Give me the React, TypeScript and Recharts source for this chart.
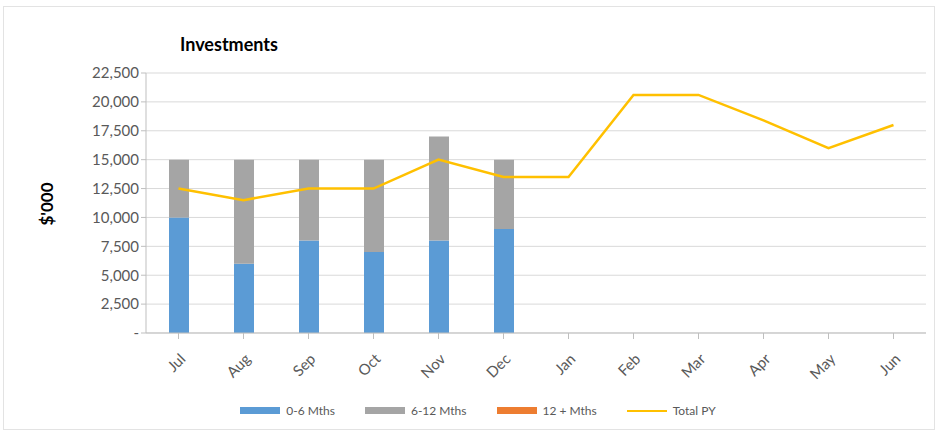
import React from "react";
import {
  Bar,
  CartesianGrid,
  ComposedChart,
  Legend,
  Line,
  XAxis,
  YAxis,
} from "recharts";

const months = ["Jul", "Aug", "Sep", "Oct", "Nov", "Dec", "Jan", "Feb", "Mar", "Apr", "May", "Jun"];
const zeroToSix = [10000, 6000, 8000, 7000, 8000, 9000, null, null, null, null, null, null];
const sixToTwelve = [5000, 9000, 7000, 8000, 9000, 6000, null, null, null, null, null, null];
const twelvePlus = [0, 0, 0, 0, 0, 0, null, null, null, null, null, null];
const totalPY = [12500, 11500, 12500, 12500, 15000, 13500, 13500, 20600, 20600, 18400, 16000, 18000];
const yTicks = [0, 2500, 5000, 7500, 10000, 12500, 15000, 17500, 20000, 22500];

const data = months.map((m, i) => ({
  month: m,
  a: zeroToSix[i],
  b: sixToTwelve[i],
  c: twelvePlus[i],
  py: totalPY[i],
}));

const font = "Lato, 'Open Sans', sans-serif";

const legendItems = [
  { label: "0-6 Mths", color: "#5B9BD5", type: "rect" },
  { label: "6-12 Mths", color: "#A5A5A5", type: "rect" },
  { label: "12 + Mths", color: "#ED7D31", type: "rect" },
  { label: "Total PY", color: "#FFC000", type: "line" },
];

const MonthTick = (props: any) => {
  const { x, y, payload } = props;
  return (
    <text
      x={x + 8}
      y={y + 19}
      transform={`rotate(-45, ${x + 8}, ${y + 19})`}
      textAnchor="end"
      fontSize={15}
      fill="#595959"
      fontFamily={font}
    >
      {payload.value}
    </text>
  );
};

const CustomLegend = () => (
  <div
    style={{
      display: "flex",
      justifyContent: "center",
      gap: 30,
      fontFamily: font,
      fontSize: 12,
      color: "#595959",
      paddingRight: 36,
      marginTop: 6,
    }}
  >
    {legendItems.map((it) => (
      <div key={it.label} style={{ display: "flex", alignItems: "center", gap: 6 }}>
        <div
          style={{
            width: 40,
            height: it.type === "rect" ? 7 : 2,
            background: it.color,
          }}
        />
        <span>{it.label}</span>
      </div>
    ))}
  </div>
);

export default function App() {
  return (
    <div
      style={{
        position: "absolute",
        left: 0,
        top: 0,
        width: 940,
        height: 435,
        background: "#fff",
      }}
    >
      <div
        style={{
          position: "absolute",
          left: 3,
          top: 6,
          width: 932,
          height: 424,
          border: "1px solid #e3e3e3",
          boxSizing: "border-box",
        }}
      />
      <div
        style={{
          position: "absolute",
          left: 180,
          top: 33,
          fontFamily: font,
          fontWeight: 700,
          fontSize: 18,
          color: "#000",
        }}
      >
        Investments
      </div>
      <div
        style={{
          position: "absolute",
          left: 46,
          top: 204,
          transform: "translate(-50%, -50%) rotate(-90deg)",
          fontFamily: font,
          fontWeight: 700,
          fontSize: 17,
          color: "#000",
          whiteSpace: "nowrap",
        }}
      >
        $'000
      </div>
      <ComposedChart
        width={940}
        height={435}
        data={data}
        margin={{ top: 73, right: 14, bottom: 4, left: 66 }}
        barSize={20}
        style={{ position: "absolute", left: 0, top: 0 }}
      >
        <CartesianGrid vertical={false} stroke="#d9d9d9" />
        <XAxis
          dataKey="month"
          tick={<MonthTick />}
          interval={0}
          height={64}
          axisLine={{ stroke: "#bfbfbf" }}
          tickLine={{ stroke: "#bfbfbf" }}
        />
        <YAxis
          width={80}
          domain={[0, 22500]}
          ticks={yTicks}
          interval={0}
          tickFormatter={(v: number) => (v === 0 ? "-" : v.toLocaleString("en-US"))}
          tick={{ fontSize: 15, fill: "#595959", fontFamily: font }}
          axisLine={{ stroke: "#bfbfbf" }}
          tickLine={{ stroke: "#bfbfbf" }}
          tickSize={5}
        />
        <Legend verticalAlign="bottom" height={34} content={<CustomLegend />} />
        <Bar dataKey="a" name="0-6 Mths" stackId="s" fill="#5B9BD5" isAnimationActive={false} />
        <Bar dataKey="b" name="6-12 Mths" stackId="s" fill="#A5A5A5" isAnimationActive={false} />
        <Bar dataKey="c" name="12 + Mths" stackId="s" fill="#ED7D31" isAnimationActive={false} />
        <Line
          dataKey="py"
          name="Total PY"
          type="linear"
          stroke="#FFC000"
          strokeWidth={2.5}
          dot={false}
          isAnimationActive={false}
        />
      </ComposedChart>
    </div>
  );
}
